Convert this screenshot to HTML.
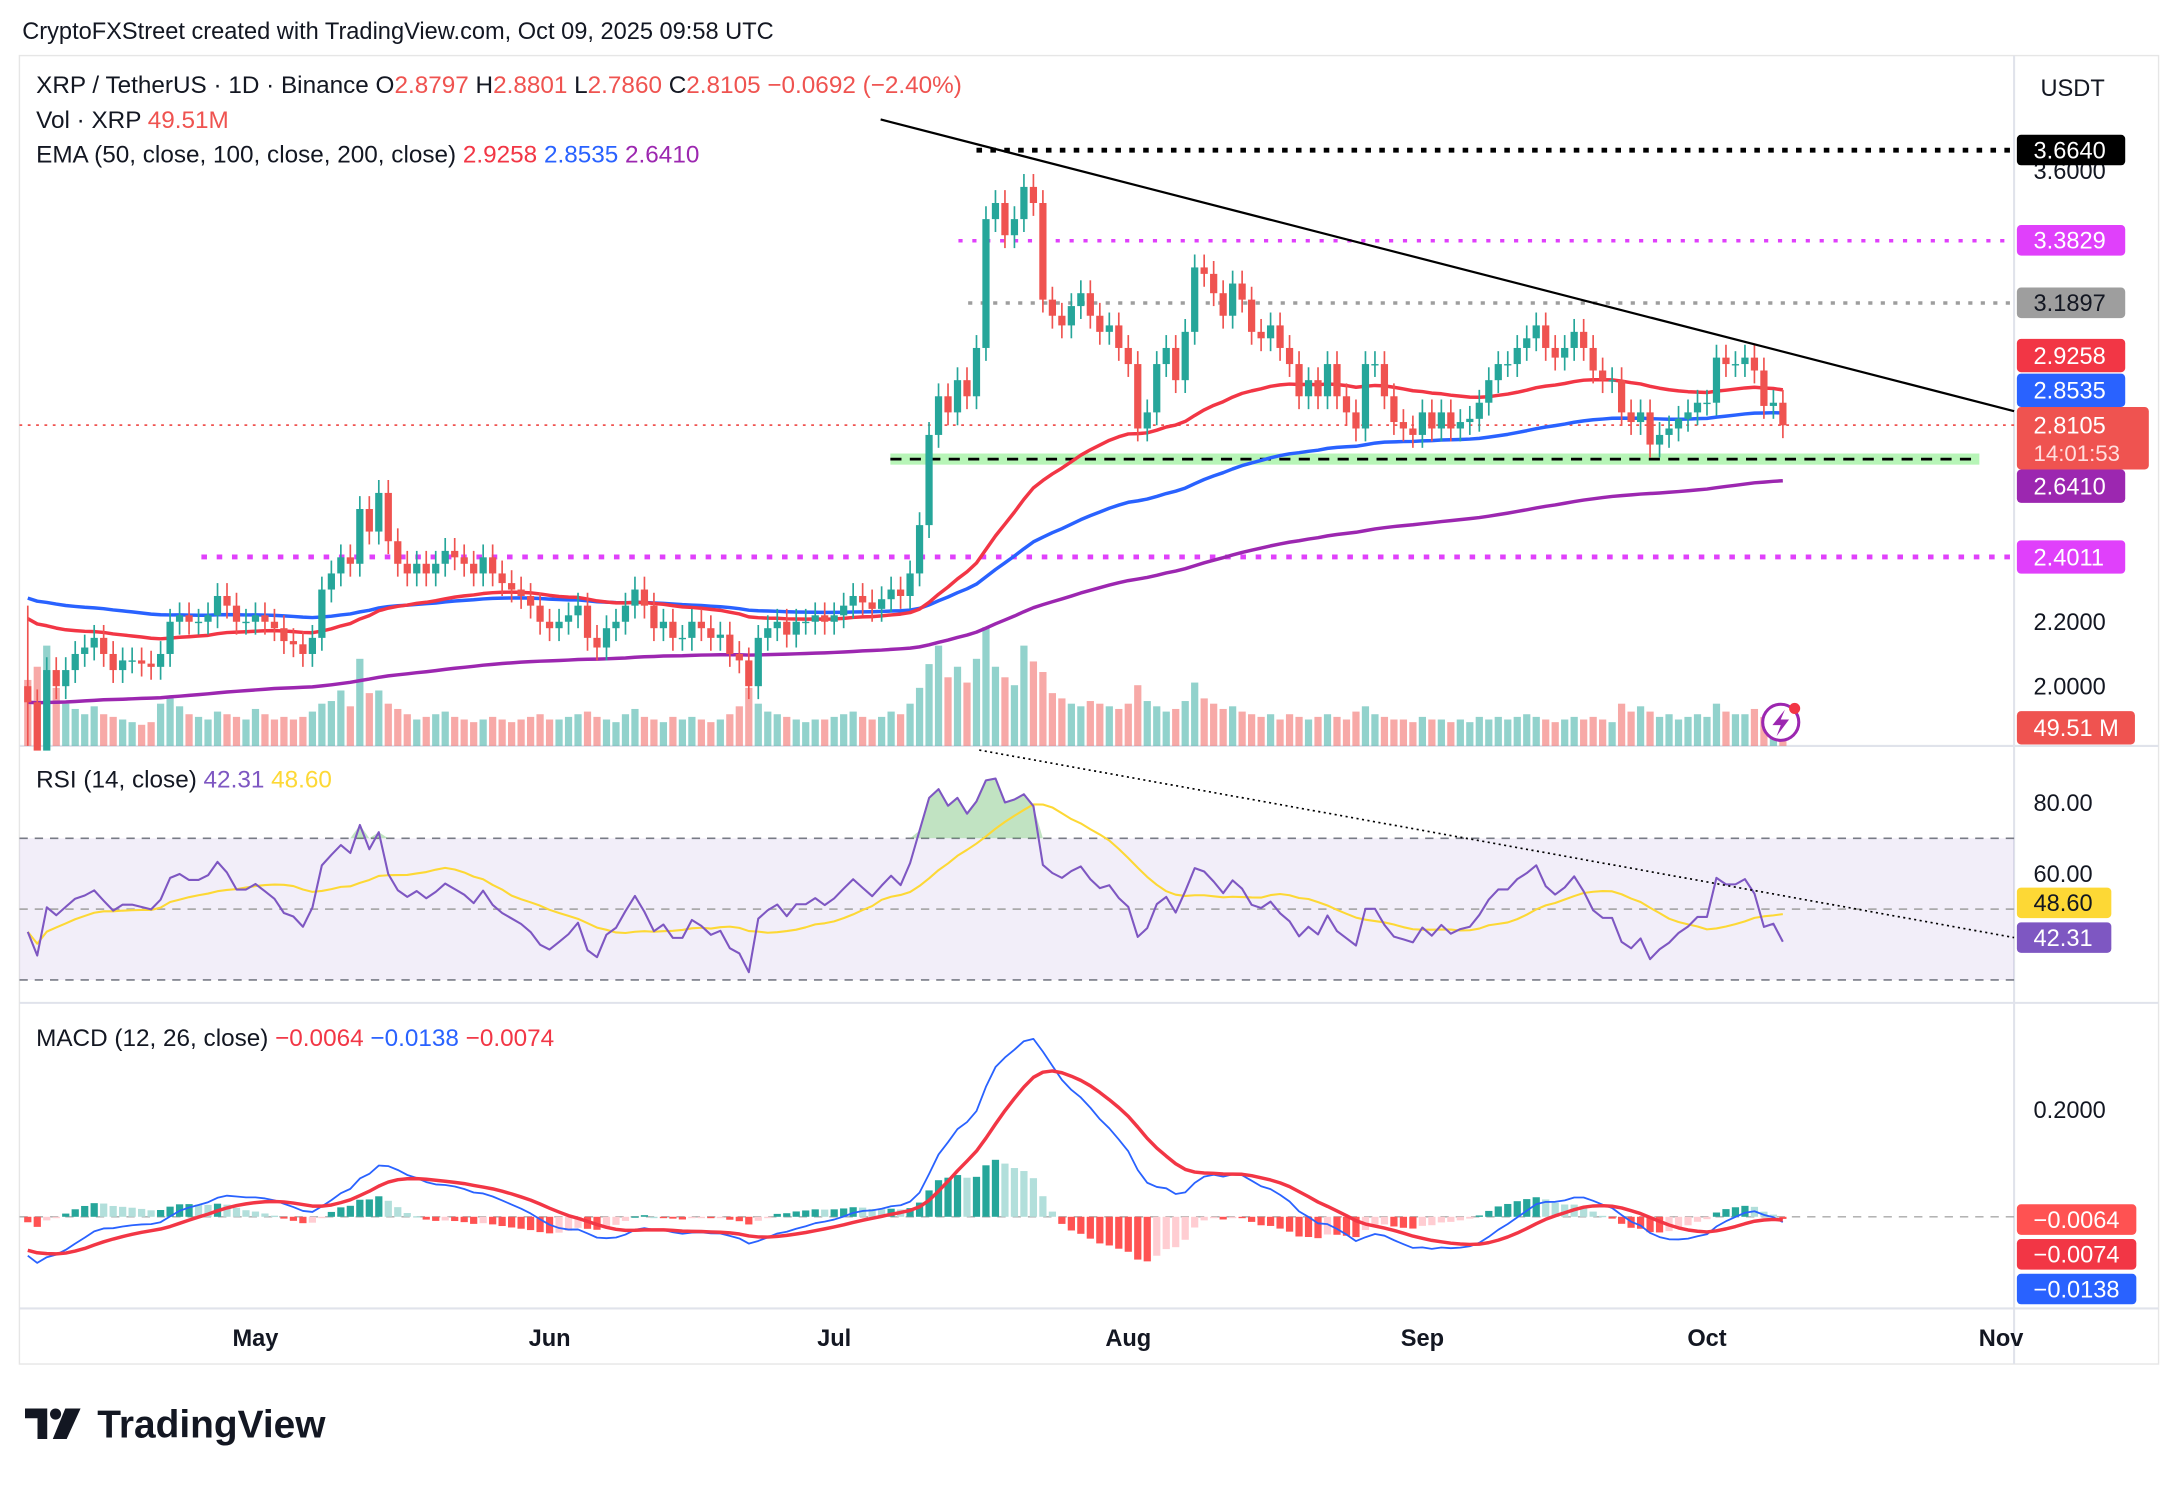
<!DOCTYPE html>
<html><head><meta charset="utf-8">
<style>
html,body{margin:0;padding:0;background:#fff;width:2178px;height:1484px;overflow:hidden}
#wrap{position:absolute;left:0;top:0;width:1568px;height:1069px;transform:scale(1.38903);transform-origin:0 0;font-family:"Liberation Sans",sans-serif}
svg text{font-family:"Liberation Sans",sans-serif}
</style></head>
<body>
<div id="wrap">
<svg id="svg" width="1568" height="1069" xmlns="http://www.w3.org/2000/svg"></svg>
</div>
<script>
// ---- data (daily, Apr 7 .. Oct 9) ----
const closes = [
1.95,1.80,2.05,2.00,2.05,2.10,2.12,
2.15,2.10,2.05,2.08,2.08,2.07,2.06,
2.10,2.20,2.22,2.20,2.20,2.22,2.28,
2.25,2.20,2.20,2.22,2.20,2.18,2.14,
2.13,2.10,2.15,2.30,2.35,2.40,2.38,
2.55,2.48,2.60,2.45,2.38,2.35,2.38,
2.35,2.38,2.42,2.40,2.38,2.35,2.40,
2.35,2.32,2.30,2.28,2.25,2.20,2.18,
2.20,2.22,2.25,2.15,2.12,2.18,2.20,
2.25,2.30,2.25,2.18,2.20,2.15,2.15,
2.20,2.18,2.15,2.16,2.10,2.08,2.00,
2.15,2.18,2.20,2.16,2.20,2.20,2.22,
2.20,2.22,2.25,2.28,2.26,2.24,2.27,
2.30,2.28,2.35,2.50,2.78,2.90,2.85,
2.95,2.90,3.05,3.45,3.50,3.40,3.45,
3.55,3.50,3.20,3.15,3.12,3.18,3.22,
3.15,3.10,3.12,3.05,3.00,2.80,2.85,
3.00,3.05,2.95,3.10,3.30,3.28,3.22,
3.15,3.25,3.20,3.10,3.08,3.12,3.05,
3.00,2.90,2.95,2.90,3.00,2.90,2.85,
2.80,3.00,3.00,2.90,2.82,2.80,2.78,
2.85,2.80,2.85,2.80,2.82,2.83,2.88,
2.95,3.00,3.00,3.05,3.08,3.12,3.05,
3.02,3.05,3.10,3.05,2.98,2.95,2.95,
2.85,2.82,2.85,2.75,2.78,2.80,2.83,
2.85,2.88,2.88,3.02,3.00,3.00,3.02,
2.98,2.87,2.88,2.81];
const firstOpen = 2.00;
const volumes = [
250,300,380,220,160,140,120,
150,120,110,100,90,80,90,
160,180,150,120,110,100,130,
120,110,100,140,120,100,110,
100,110,130,160,170,210,150,
330,200,210,160,140,120,100,
110,120,130,110,100,90,100,
110,100,90,100,110,120,100,
100,110,120,130,110,100,90,
120,140,110,100,90,110,100,
110,100,90,100,120,150,220,
160,130,120,110,100,90,100,
100,110,120,130,110,100,110,
130,120,160,220,310,380,260,
300,240,330,450,300,260,230,
380,320,280,200,180,160,150,
170,160,150,140,160,230,170,
150,130,140,170,240,180,160,
140,150,130,120,110,120,100,
120,110,100,110,120,110,100,
130,150,120,110,100,100,90,
110,100,100,90,100,90,110,
100,110,100,110,120,110,100,
90,100,110,100,110,100,90,
160,130,150,130,110,120,100,
110,120,110,160,130,120,120,
140,110,120,50];
const dateTicks = ["May","Jun","Jul","Aug","Sep","Oct","Nov"];
const dateTickDay = [24,55,85,116,147,177,208];
const priceTicks = [3.6,2.2,2.0];
const rsiTicks = [80,60];
const macdTicks = [0.2];

// ---- scales ----
const X0=20, DX=6.83;
const xs = i => X0 + i*DX;
const yP = p => 494 - (p-2)*231.9;
const yR = r => 578 + (80-r)*2.55;
const yM = m => 876 - m*385;
const yV = v => 537 - v*0.19;

const svg=document.getElementById('svg');
const NS='http://www.w3.org/2000/svg';
function mk(tag,attrs,parent){const e=document.createElementNS(NS,tag);for(const k in attrs)e.setAttribute(k,attrs[k]);(parent||svg).appendChild(e);return e;}
function txt(x,y,s,attrs,parent){const t=mk('text',Object.assign({x:x,y:y},attrs),parent);t.textContent=s;return t;}

// ---- indicators ----
function ema(arr,n,seed){const k=2/(n+1);let e=seed;return arr.map(v=>e=v*k+e*(1-k));}
const e50=ema(closes,50,2.22), e100=ema(closes,100,2.28), e200=ema(closes,200,1.95);
const e12=ema(closes,12,2.05), e26=ema(closes,26,2.12);
const macd=e12.map((v,i)=>v-e26[i]);
const sig=ema(macd,9,-0.06);
const hist=macd.map((v,i)=>v-sig[i]);
let ag=0.03,al=0.035;const rsi=[];
closes.forEach((c,i)=>{const p=i?closes[i-1]:firstOpen;const d=c-p;ag=(ag*13+Math.max(d,0))/14;al=(al*13+Math.max(-d,0))/14;rsi.push(100-100/(1+ag/al));});
const rsiMa=rsi.map((v,i)=>{const s=rsi.slice(Math.max(0,i-13),i+1);return s.reduce((a,b)=>a+b,0)/s.length;});

// ---- frame ----
const frame=mk('rect',{x:14,y:40,width:1540,height:942,fill:'none',stroke:'#e6e6e6'});


[537,722,942].forEach(y=>{const l=mk('line',{x1:14,x2:1554,y1:y,y2:y,stroke:'#e0e3eb','stroke-width':1.5});

});
const va=mk('line',{x1:1450,x2:1450,y1:40,y2:982,stroke:'#e0e3eb','stroke-width':1.5});



const hdr=txt(16,28,'CryptoFXStreet created with TradingView.com, Oct 09, 2025 09:58 UTC',{'font-size':17,fill:'#131722'});



// ---- volume ----
const vg=mk('g',{});


volumes.forEach((v,i)=>{const o=i?closes[i-1]:firstOpen;const up=closes[i]>=o;
const b=mk('rect',{x:xs(i)-2.6,y:yV(v),width:5.2,height:537-yV(v),fill:up?'#26a69a':'#ef5350','fill-opacity':0.5},vg);

});

// ---- horizontal levels ----
function hl(y,x1,x2,col,dash,w,name){const l=mk('line',{x1:x1,x2:x2,y1:y,y2:y,stroke:col,'stroke-dasharray':dash,'stroke-width':w});

}
const band=mk('rect',{x:641,y:yP(2.705)-4,width:784,height:8,fill:'#b7f5b7'});


hl(yP(2.705),641,1425,'#000','8 6',2,'support-line');
hl(yP(3.664),703,1450,'#000','4 6',3.5,'resistance-3-664');
hl(yP(3.3829),690,1450,'#e040fb','3 7',2.5,'level-3-3829');
hl(yP(3.1897),697,1450,'#9e9e9e','3 6',2.5,'level-3-1897');
hl(yP(2.4011),145,1450,'#e040fb','4 7',3.5,'level-2-4011');
hl(yP(2.8105),14,1450,'#ef5350','2 4',1.2,'last-price-line');

// ---- EMAs ----
function line(arr,f,col,w,name,parent){const d=arr.map((v,i)=>(i?'L':'M')+xs(i).toFixed(1)+','+f(v).toFixed(1)).join('');
const p=mk('path',{d:d,fill:'none',stroke:col,'stroke-width':w,'stroke-linejoin':'round'},parent);

return p;}
line(e200,yP,'#9c27b0',2.5,'ema-200');
line(e100,yP,'#2962ff',2.5,'ema-100');
line(e50,yP,'#f23645',2.5,'ema-50');

// ---- candles ----
const cg=mk('g',{});


closes.forEach((c,i)=>{const o=i?closes[i-1]:firstOpen;const up=c>=o;const col=up?'#26a69a':'#ef5350';
const hi=Math.max(o,c)+(i===0?0.25:0.04), lo=Math.min(o,c)-(i===0?0.35:0.04);
const w=mk('line',{x1:xs(i),x2:xs(i),y1:yP(hi),y2:Math.min(537,yP(lo)),stroke:col,'stroke-width':1.2},cg);


const top=yP(Math.max(o,c)),bh=Math.max(1,yP(Math.min(o,c))-top);
const b=mk('rect',{x:xs(i)-2.6,y:top,width:5.2,height:bh,fill:col},cg);

});

// trendline
const tl=mk('line',{x1:634,y1:86,x2:1450,y2:296,stroke:'#000','stroke-width':1.6});



// ---- RSI ----
const rb=mk('rect',{x:14,y:yR(70),width:1436,height:yR(30)-yR(70),fill:'#7e57c2','fill-opacity':0.1});


[70,50,30].forEach(v=>hl(yR(v),14,1450,v==50?'#aaa':'#787b86','6 5',1.2,'rsi-level-'+v));
const ob=mk('path',{d:rsi.map((v,i)=>(i?'L':'M')+xs(i).toFixed(1)+','+yR(Math.max(v,70)).toFixed(1)).join('')+'L'+xs(rsi.length-1)+','+yR(70)+'L'+xs(0)+','+yR(70)+'Z',fill:'#4caf50','fill-opacity':0.35});


line(rsiMa,yR,'#fdd835',1.5,'rsi-ma-line');
line(rsi,yR,'#7e57c2',1.5,'rsi-line');
const rt=mk('line',{x1:705,y1:540,x2:1450,y2:675,stroke:'#000','stroke-width':1.2,'stroke-dasharray':'1.5 2.5'});



// ---- MACD ----
hl(yM(0),14,1450,'#aaa','6 5',1,'macd-zero-line');
const hg=mk('g',{});


hist.forEach((h,i)=>{const prev=i?hist[i-1]:0;let col;
if(h>=0)col=h>=prev?'#26a69a':'#b2dfdb';else col=h<prev?'#ff5252':'#ffcdd2';
const y=Math.min(yM(h),yM(0)),ht=Math.max(1,Math.abs(yM(h)-yM(0)));
const b=mk('rect',{x:xs(i)-2.6,y:y,width:5.2,height:ht,fill:col},hg);

});
line(macd,yM,'#2962ff',1.3,'macd-line');
line(sig,yM,'#f23645',2.5,'signal-line');

// ---- legends ----
function legend(y,parts,name){const t=mk('text',{x:26,y:y,'font-size':17.5});


parts.forEach(p=>{const s=mk('tspan',{fill:p[1]},t);s.textContent=p[0];});}
legend(67,[['XRP / TetherUS · 1D · Binance  ','#131722'],['O','#131722'],['2.8797  ','#ef5350'],['H','#131722'],['2.8801  ','#ef5350'],['L','#131722'],['2.7860  ','#ef5350'],['C','#131722'],['2.8105  −0.0692 (−2.40%)','#ef5350']],'price-legend');
legend(92,[['Vol · XRP  ','#131722'],['49.51M','#ef5350']],'volume-legend');
legend(117,[['EMA (50, close, 100, close, 200, close)  ','#131722'],['2.9258  ','#f23645'],['2.8535  ','#2962ff'],['2.6410','#9c27b0']],'ema-legend');
legend(567,[['RSI (14, close)  ','#131722'],['42.31  ','#7e57c2'],['48.60','#fdd835']],'rsi-legend');
legend(753,[['MACD (12, 26, close)  ','#131722'],['−0.0064  ','#f23645'],['−0.0138  ','#2962ff'],['−0.0074','#f23645']],'macd-legend');

// ---- axes labels ----
const cur=txt(1469,69,'USDT',{'font-size':17,fill:'#131722'});


priceTicks.forEach(p=>{const t=txt(1464,yP(p)+6,p.toFixed(4),{'font-size':17,fill:'#131722'});

});
rsiTicks.forEach(r=>{const t=txt(1464,yR(r)+6,r.toFixed(2),{'font-size':17,fill:'#131722'});

});
macdTicks.forEach(m=>{const t=txt(1464,yM(m)+6,m.toFixed(4),{'font-size':17,fill:'#131722'});

});
dateTicks.forEach((d,i)=>{const t=txt(xs(dateTickDay[i]),969,d,{'font-size':17,'font-weight':'bold',fill:'#131722','text-anchor':'middle'});

});

function badge(y,h,label,bg,fg,w,name){const g=mk('g',{});


mk('rect',{x:1452,y:y-h/2,width:w||78,height:h,rx:3,fill:bg},g);
txt(1464,y+6,label,{'font-size':17,fill:fg},g);return g;}
badge(108,22,'3.6640','#000','#fff',78,'label-3-6640');
badge(173,22,'3.3829','#e040fb','#fff',78,'label-3-3829');
badge(218,22,'3.1897','#9e9e9e','#131722',78,'label-3-1897');
badge(256,24,'2.9258','#f23645','#fff',78,'label-ema50');
badge(281,24,'2.8535','#2962ff','#fff',78,'label-ema100');
const lp=mk('g',{});


mk('rect',{x:1452,y:293,width:95,height:45,rx:3,fill:'#ef5350'},lp);
txt(1464,312,'2.8105',{'font-size':17,fill:'#fff'},lp);
txt(1464,332,'14:01:53',{'font-size':16,fill:'#ffdede'},lp);
badge(350,24,'2.6410','#9c27b0','#fff',78,'label-ema200');
badge(401,24,'2.4011','#e040fb','#fff',78,'label-2-4011');
badge(524,24,'49.51 M','#ef5350','#fff',85,'label-volume');
badge(650,22,'48.60','#fdd835','#131722',68,'label-rsi-ma');
badge(675,22,'42.31','#7e57c2','#fff',68,'label-rsi');
badge(878,22,'−0.0064','#ff5252','#fff',86,'label-macd-hist');
badge(903,22,'−0.0074','#f23645','#fff',86,'label-signal');
badge(928,22,'−0.0138','#2962ff','#fff',86,'label-macd');

// alert icon
const ic=mk('g',{});


mk('circle',{cx:1282,cy:520,r:13,fill:'#fff',stroke:'#9c27b0','stroke-width':2.2},ic);
mk('path',{d:'M1285,511 L1276,522 L1282,522 L1279,530 L1288,518 L1282,518 Z',fill:'#9c27b0'},ic);
mk('circle',{cx:1292,cy:510,r:4,fill:'#f23645'},ic);

// logo
const lg=mk('g',{});


mk('path',{d:'M18,1014 H34 V1036 H27 V1021 H18 Z',fill:'#131722'},lg);
mk('circle',{cx:40,cy:1018,r:4,fill:'#131722'},lg);
mk('path',{d:'M47,1014 H58 L48,1036 H38 Z',fill:'#131722'},lg);
txt(70,1035,'TradingView',{'font-size':28,'font-weight':'bold',fill:'#131722'},lg);
</script>
</body></html>
